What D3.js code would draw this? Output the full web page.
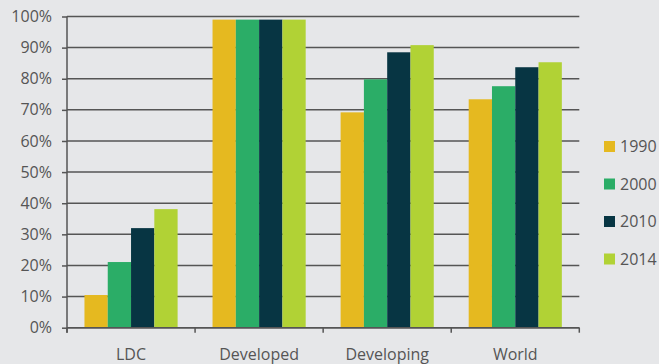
<!DOCTYPE html>
<html>
<head>
<meta charset="utf-8">
<script src="https://cdn.jsdelivr.net/npm/d3@7"></script>
<style>
  html, body { margin: 0; padding: 0; background: #e6e7e9; }
  svg { display: block; font-family: "Open Sans", sans-serif; }
</style>
</head>
<body>
<svg id="chart" width="659" height="364"></svg>
<script>
// Share of population (%) by group and year
const categories = ["LDC", "Developed", "Developing", "World"];
const years = ["1990", "2000", "2010", "2014"];
const v1990 = [10.5, 99, 69.2, 73.4];
const v2000 = [21.1, 99, 79.8, 77.6];
const v2010 = [32.0, 99, 88.5, 83.7];
const v2014 = [38.1, 99, 90.8, 85.3];
const yTicks = [0, 10, 20, 30, 40, 50, 60, 70, 80, 90, 100];
const colors = ["#e5b920", "#2bad67", "#073543", "#b1d235"];

const seriesValues = [v1990, v2000, v2010, v2014];
const rows = categories.map((c, i) => ({
  category: c,
  values: years.map((y, j) => ({ year: y, value: seriesValues[j][i] }))
}));

const svg = d3.select("#chart");
const margin = { left: 67, right: 80, top: 16.5, bottom: 36.3 };
const width = 659, height = 364;
const plotRight = 579.3;

const x = d3.scaleBand()
  .domain(categories)
  .range([margin.left, plotRight])
  .paddingInner(0)
  .paddingOuter(0);

const x1 = d3.scaleBand()
  .domain(years)
  .range([0, x.bandwidth()])
  .paddingInner(0)
  .paddingOuter(0.75);

const y = d3.scaleLinear()
  .domain([0, 100])
  .range([height - margin.bottom, margin.top]);

const axisColor = "#555";
const textColor = "#555";

// horizontal grid lines
svg.append("g")
  .selectAll("line")
  .data(yTicks)
  .join("line")
  .attr("x1", margin.left)
  .attr("x2", plotRight)
  .attr("y1", d => y(d))
  .attr("y2", d => y(d))
  .attr("stroke", axisColor)
  .attr("stroke-width", 1.5);

// y axis
const yAxis = d3.axisLeft(y)
  .tickValues(yTicks)
  .tickFormat(d => d + "%")
  .tickSize(5)
  .tickPadding(10);
const gy = svg.append("g")
  .attr("transform", `translate(${margin.left},0)`)
  .call(yAxis);
gy.select(".domain").attr("stroke", axisColor).attr("stroke-width", 1.5)
  .attr("d", `M0,${y(100)}V${y(0) + 5}`);
gy.selectAll(".tick line").attr("stroke", axisColor).attr("stroke-width", 1.5);
gy.selectAll(".tick text")
  .attr("fill", textColor)
  .style("font-size", "16px")
  .style("font-family", "'Open Sans', sans-serif");

// bars
const groups = svg.append("g")
  .selectAll("g")
  .data(rows)
  .join("g")
  .attr("transform", d => `translate(${x(d.category)},0)`);

groups.selectAll("rect")
  .data(d => d.values)
  .join("rect")
  .attr("x", d => x1(d.year))
  .attr("width", x1.bandwidth())
  .attr("y", d => y(d.value))
  .attr("height", d => y(0) - y(d.value))
  .attr("fill", (d, i) => colors[i]);

// x axis with ticks at category boundaries
const xAxisG = svg.append("g")
  .attr("transform", `translate(0,${y(0)})`);
xAxisG.append("line")
  .attr("x1", margin.left)
  .attr("x2", plotRight)
  .attr("stroke", axisColor)
  .attr("stroke-width", 1.5);
const boundaries = categories.map(c => x(c) + x.bandwidth()).concat([x(categories[0])]);
xAxisG.selectAll("line.bound")
  .data(boundaries)
  .join("line")
  .attr("class", "bound")
  .attr("x1", d => d).attr("x2", d => d)
  .attr("y1", 0).attr("y2", 5)
  .attr("stroke", axisColor)
  .attr("stroke-width", 1.5);
xAxisG.selectAll("text")
  .data(categories)
  .join("text")
  .attr("x", d => x(d) + x.bandwidth() / 2)
  .attr("y", 32)
  .attr("text-anchor", "middle")
  .attr("fill", textColor)
  .style("font-size", "16px")
  .text(d => d);

// legend
const legend = svg.append("g")
  .attr("transform", "translate(604,141)");
const item = legend.selectAll("g")
  .data(years)
  .join("g")
  .attr("transform", (d, i) => `translate(0,${i * 37.5})`);
item.append("rect")
  .attr("width", 11)
  .attr("height", 11)
  .attr("fill", (d, i) => colors[i]);
item.append("text")
  .attr("x", 16)
  .attr("y", 5.5)
  .attr("dy", "0.35em")
  .attr("fill", textColor)
  .style("font-size", "16px")
  .text(d => d);
</script>
</body>
</html>
